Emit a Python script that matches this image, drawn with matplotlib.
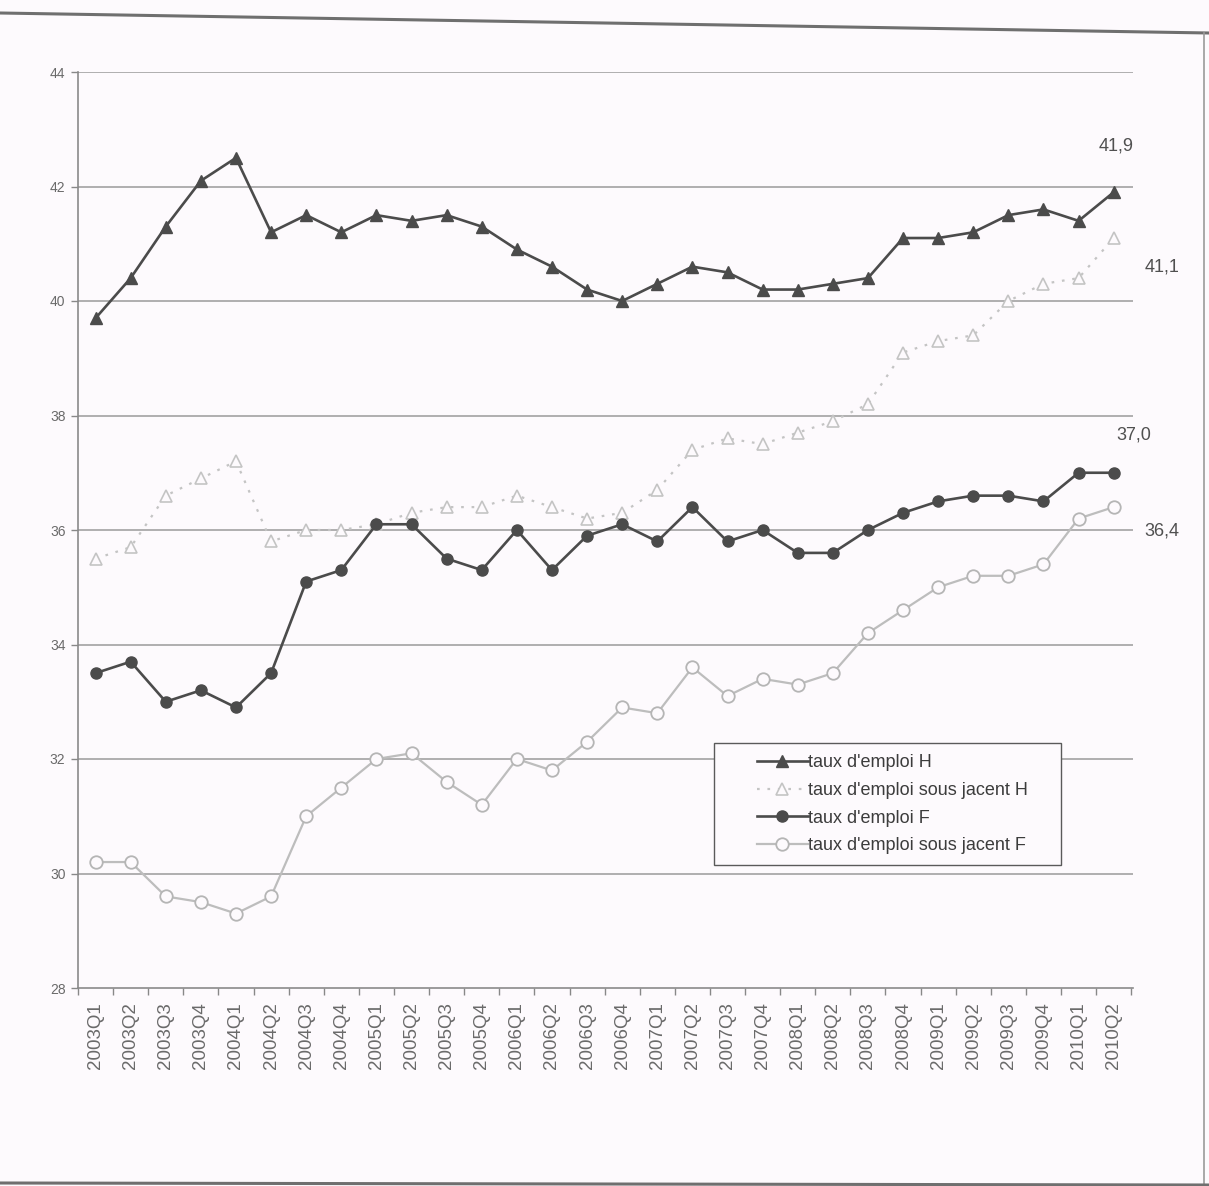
import numpy as np
import matplotlib
matplotlib.use('Agg')
import matplotlib.pyplot as plt
from matplotlib.lines import Line2D
from matplotlib.patches import Rectangle

quarters = ['2003Q1', '2003Q2', '2003Q3', '2003Q4', '2004Q1', '2004Q2',
            '2004Q3', '2004Q4', '2005Q1', '2005Q2', '2005Q3', '2005Q4',
            '2006Q1', '2006Q2', '2006Q3', '2006Q4', '2007Q1', '2007Q2',
            '2007Q3', '2007Q4', '2008Q1', '2008Q2', '2008Q3', '2008Q4',
            '2009Q1', '2009Q2', '2009Q3', '2009Q4', '2010Q1', '2010Q2']

taux_h = [39.7, 40.4, 41.3, 42.1, 42.5, 41.2, 41.5, 41.2, 41.5, 41.4,
          41.5, 41.3, 40.9, 40.6, 40.2, 40.0, 40.3, 40.6, 40.5, 40.2,
          40.2, 40.3, 40.4, 41.1, 41.1, 41.2, 41.5, 41.6, 41.4, 41.9]
sous_jacent_h = [35.5, 35.7, 36.6, 36.9, 37.2, 35.8, 36.0, 36.0, 36.1, 36.3,
                 36.4, 36.4, 36.6, 36.4, 36.2, 36.3, 36.7, 37.4, 37.6, 37.5,
                 37.7, 37.9, 38.2, 39.1, 39.3, 39.4, 40.0, 40.3, 40.4, 41.1]
taux_f = [33.5, 33.7, 33.0, 33.2, 32.9, 33.5, 35.1, 35.3, 36.1, 36.1,
          35.5, 35.3, 36.0, 35.3, 35.9, 36.1, 35.8, 36.4, 35.8, 36.0,
          35.6, 35.6, 36.0, 36.3, 36.5, 36.6, 36.6, 36.5, 37.0, 37.0]
sous_jacent_f = [30.2, 30.2, 29.6, 29.5, 29.3, 29.6, 31.0, 31.5, 32.0, 32.1,
                 31.6, 31.2, 32.0, 31.8, 32.3, 32.9, 32.8, 33.6, 33.1, 33.4,
                 33.3, 33.5, 34.2, 34.6, 35.0, 35.2, 35.2, 35.4, 36.2, 36.4]

end_labels = ['41,9', '41,1', '37,0', '36,4']
y_ticks = [28, 30, 32, 34, 36, 38, 40, 42, 44]

NARROW = ['Liberation Sans Narrow', 'Liberation Sans', 'DejaVu Sans']
REGULAR = ['Liberation Sans', 'DejaVu Sans']
BG = '#fdfafd'
W, H = 1209.0, 1186.0


def page_border(fig):
    # scanned page edges
    fig.add_artist(Line2D([0, 1], [1 - 13 / H, 1 - 33 / H], transform=fig.transFigure,
                          color='#6f6f6f', lw=2.2))
    fig.add_artist(Line2D([1204 / W, 1204 / W], [1 - 33 / H, 0], transform=fig.transFigure,
                          color='#9a9a9a', lw=1.2))
    fig.add_artist(Line2D([0, 1], [1 - 1183 / H, 1 - 1185 / H], transform=fig.transFigure,
                          color='#6f6f6f', lw=2.2))


def plot_series(ax, x):
    ax.plot(x, taux_h, '-', color='#4b4b4b', lw=1.9, marker='^', markersize=8,
            markerfacecolor='#4b4b4b', markeredgecolor='#4b4b4b',
            label="taux d'emploi H", zorder=5)
    ax.plot(x, sous_jacent_h, linestyle=(0, (1.2, 3.5)), color='#c4c4c4', lw=1.6,
            marker='^', markersize=9, markerfacecolor=BG, markeredgecolor='#c4c4c4',
            markeredgewidth=1.2, label="taux d'emploi sous jacent H", zorder=3)
    ax.plot(x, taux_f, '-', color='#4b4b4b', lw=1.9, marker='o', markersize=8,
            markerfacecolor='#4b4b4b', markeredgecolor='#4b4b4b',
            label="taux d'emploi F", zorder=5)
    ax.plot(x, sous_jacent_f, '-', color='#bdbdbd', lw=1.6, marker='o', markersize=9,
            markerfacecolor=BG, markeredgecolor='#b5b5b5', markeredgewidth=1.3,
            label="taux d'emploi sous jacent F", zorder=4)

    last = len(x) - 1
    series = [taux_h, sous_jacent_h, taux_f, sous_jacent_f]
    offsets = [(2, 46), (48, -29), (20, 38), (48, -24)]
    for lab, s, off in zip(end_labels, series, offsets):
        ax.annotate(lab, (x[last], s[last]), xytext=off, textcoords='offset pixels',
                    ha='center', va='center', fontsize=13, color='#505050',
                    family=NARROW)


def style_axes(ax, x):
    ax.set_xlim(-0.45, len(x) - 0.45)
    ax.set_ylim(28, 44)
    ax.set_yticks(y_ticks)
    ax.set_yticklabels([str(v) for v in y_ticks], family=REGULAR, fontsize=10,
                       color='#6a6a6a')
    for v in y_ticks[1:]:
        ax.axhline(v, color='#a9a9a9', lw=1.3, zorder=1)

    ax.set_xticks(x)
    ax.set_xticklabels(quarters, rotation=90, family=REGULAR, fontsize=13.5,
                       color='#6a6a6a')
    ax.set_xticks(np.arange(-0.5, len(x), 1.0), minor=True)
    ax.tick_params(axis='x', which='major', length=0, pad=10)
    ax.tick_params(axis='x', which='minor', length=5, color='#888888', width=1)
    ax.tick_params(axis='y', length=5, color='#888888', width=1, pad=4)

    for side in ['top', 'right']:
        ax.spines[side].set_visible(False)
    ax.spines['left'].set_color('#8a8a8a')
    ax.spines['bottom'].set_color('#8a8a8a')
    ax.spines['left'].set_linewidth(1.2)
    ax.spines['bottom'].set_linewidth(1.2)
    ax.set_facecolor(BG)


def add_legend(fig, ax):
    # box drawn by hand: wide side padding like the original
    box = Rectangle((714 / W, 1 - 865 / H), (1061 - 714) / W, (865 - 743) / H,
                    transform=fig.transFigure, facecolor=BG, edgecolor='#5a5a5a',
                    lw=1.0, zorder=8, clip_on=False)
    ax.add_patch(box)
    leg = ax.legend(loc='upper left', bbox_to_anchor=(757 / W, 1 - 754 / H),
                    bbox_transform=fig.transFigure, borderaxespad=0, borderpad=0,
                    prop={'family': NARROW, 'size': 13}, handlelength=2.8,
                    handletextpad=0.05, labelspacing=0.6, frameon=False)
    leg.set_zorder(9)
    for t in leg.get_texts():
        t.set_color('#3c3c3c')


def main():
    fig = plt.figure(figsize=(12.09, 11.86), dpi=100, facecolor=BG)
    ax = fig.add_axes([78 / W, 1 - 988 / H, (1133 - 78) / W, (988 - 72) / H])
    x = np.arange(len(quarters))
    style_axes(ax, x)
    plot_series(ax, x)
    add_legend(fig, ax)
    page_border(fig)
    fig.savefig('out.png', dpi=100, facecolor=BG)
    plt.close()


if __name__ == "__main__":
    main()
